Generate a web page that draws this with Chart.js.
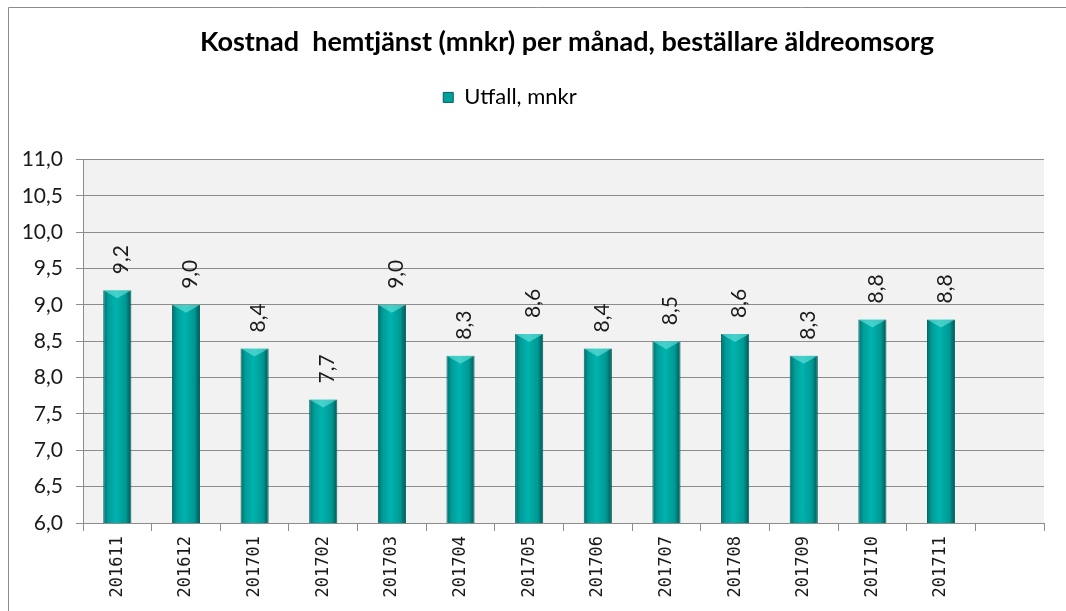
<!DOCTYPE html>
<html>
<head>
<meta charset="utf-8">
<script src="https://cdn.jsdelivr.net/npm/chart.js"></script>
<style>
  html, body { margin: 0; padding: 0; background: #fff; }
  #wrap { width: 1066px; height: 611px; }
</style>
</head>
<body>
<div id="wrap"><canvas id="chart"></canvas></div>
<script>
// ─── DATA ───────────────────────────────────────────────
const months = ['201611', '201612', '201701', '201702', '201703', '201704', '201705',
                '201706', '201707', '201708', '201709', '201710', '201711', ''];
const utfall = [9.2, 9.0, 8.4, 7.7, 9.0, 8.3, 8.6, 8.4, 8.5, 8.6, 8.3, 8.8, 8.8, null];
const yTicks = [6.0, 6.5, 7.0, 7.5, 8.0, 8.5, 9.0, 9.5, 10.0, 10.5, 11.0];

const fmt = v => v.toFixed(1).replace('.', ',');
const BAR_PCT = 0.41;

// ─── HELPER: bar gradient from the x scale ──────────────
function barFill(ctx) {
    const chart = ctx.chart;
    const xs = chart.scales.x;
    if (!xs || ctx.dataIndex === undefined) return '#00a8a4';
    const cx = xs.getPixelForValue(ctx.dataIndex);
    const w = (xs.width / months.length) * BAR_PCT;
    const g = chart.ctx.createLinearGradient(cx - w / 2, 0, cx + w / 2, 0);
    g.addColorStop(0, '#006e6b');
    g.addColorStop(0.18, '#009d99');
    g.addColorStop(0.45, '#00b3ae');
    g.addColorStop(0.8, '#009893');
    g.addColorStop(1, '#005552');
    return g;
}

// ─── PLUGIN: legend gap + nudging title/legend sideways ─
const headerLayout = {
    id: 'headerLayout',
    beforeInit(chart) {
        const origFit = chart.legend.fit;
        chart.legend.fit = function () {
            origFit.call(this);
            this.height += 41;
        };
    },
    afterLayout(chart) {
        const t = chart.titleBlock;
        if (t) { t.left += 40; t.right += 40; }
        const l = chart.legend;
        if (l) { l.left -= 17; l.right -= 17; }
    }
};

// ─── PLUGIN: frame, plot background, bevels, labels ─────
const decor = {
    id: 'decor',
    beforeDraw(chart) {
        const { ctx, chartArea: a } = chart;
        ctx.save();
        ctx.fillStyle = '#f2f2f2';
        ctx.fillRect(a.left, a.top, a.right - a.left, a.bottom - a.top);
        ctx.strokeStyle = '#8c8c8c';
        ctx.lineWidth = 1;
        ctx.beginPath();
        ctx.moveTo(8.5, 611);
        ctx.lineTo(8.5, 7.5);
        ctx.lineTo(1066, 7.5);
        ctx.stroke();
        ctx.restore();
    },
    afterDatasetsDraw(chart) {
        const { ctx } = chart;
        const meta = chart.getDatasetMeta(0);
        ctx.save();
        meta.data.forEach((bar, i) => {
            if (utfall[i] == null) return;
            const l = bar.x - bar.width / 2, r = bar.x + bar.width / 2;
            // top bevel
            ctx.fillStyle = 'rgba(120,235,230,0.55)';
            ctx.beginPath();
            ctx.moveTo(l, bar.y);
            ctx.lineTo(r, bar.y);
            ctx.lineTo(bar.x, bar.y + 8);
            ctx.closePath();
            ctx.fill();
            // label
            ctx.save();
            ctx.translate(bar.x + 4, bar.y - 16);
            ctx.rotate(-Math.PI / 2);
            ctx.font = '21px Lato';
            ctx.fillStyle = '#1a1a1a';
            ctx.textAlign = 'left';
            ctx.textBaseline = 'middle';
            ctx.fillText(fmt(utfall[i]), 0, 0);
            ctx.restore();
        });
        ctx.restore();
    }
};

// ─── RENDER ─────────────────────────────────────────────
new Chart(document.getElementById('chart'), {
    type: 'bar',
    data: {
        labels: months,
        datasets: [{
            label: 'Utfall, mnkr',
            data: utfall,
            backgroundColor: barFill,
            borderColor: '#00605d',
            borderWidth: { left: 1, right: 1, top: 0, bottom: 0 },
            barPercentage: BAR_PCT,
            categoryPercentage: 1.0
        }]
    },
    options: {
        responsive: true,
        maintainAspectRatio: false,
        animation: false,
        devicePixelRatio: 1,
        layout: { padding: { left: 10, right: 22, top: 26, bottom: 0 } },
        plugins: {
            title: {
                display: true,
                text: 'Kostnad  hemtjänst (mnkr) per månad, beställare äldreomsorg',
                color: '#000',
                font: { family: 'Lato', size: 27, weight: 'bold' },
                padding: { top: 0, bottom: 20 }
            },
            legend: {
                display: true,
                labels: {
                    color: '#1a1a1a',
                    font: { family: 'Lato', size: 22 },
                    boxWidth: 10,
                    boxHeight: 10,
                    padding: 8,
                    generateLabels: () => [{
                        text: 'Utfall, mnkr',
                        fillStyle: '#00a09c',
                        strokeStyle: '#00605d',
                        lineWidth: 1
                    }]
                }
            },
            tooltip: { enabled: false }
        },
        scales: {
            x: {
                grid: {
                    display: true,
                    offset: true,
                    drawOnChartArea: false,
                    drawTicks: true,
                    tickLength: 8,
                    color: '#8c8c8c'
                },
                border: { color: '#8c8c8c' },
                ticks: {
                    color: '#1a1a1a',
                    font: { family: 'DejaVu Sans Mono', size: 17 },
                    maxRotation: 90,
                    minRotation: 90,
                    autoSkip: false,
                    padding: 5
                },
                afterFit: s => { s.height = 88; }
            },
            y: {
                min: 6,
                max: 11,
                afterBuildTicks: s => { s.ticks = yTicks.map(v => ({ value: v })); },
                grid: { color: '#8c8c8c', tickLength: 7 },
                border: { color: '#8c8c8c' },
                ticks: {
                    color: '#1a1a1a',
                    font: { family: 'Lato', size: 21 },
                    padding: 13,
                    callback: v => fmt(v)
                },
                afterFit: s => { s.width = 73; }
            }
        }
    },
    plugins: [headerLayout, decor]
});
</script>
</body>
</html>
